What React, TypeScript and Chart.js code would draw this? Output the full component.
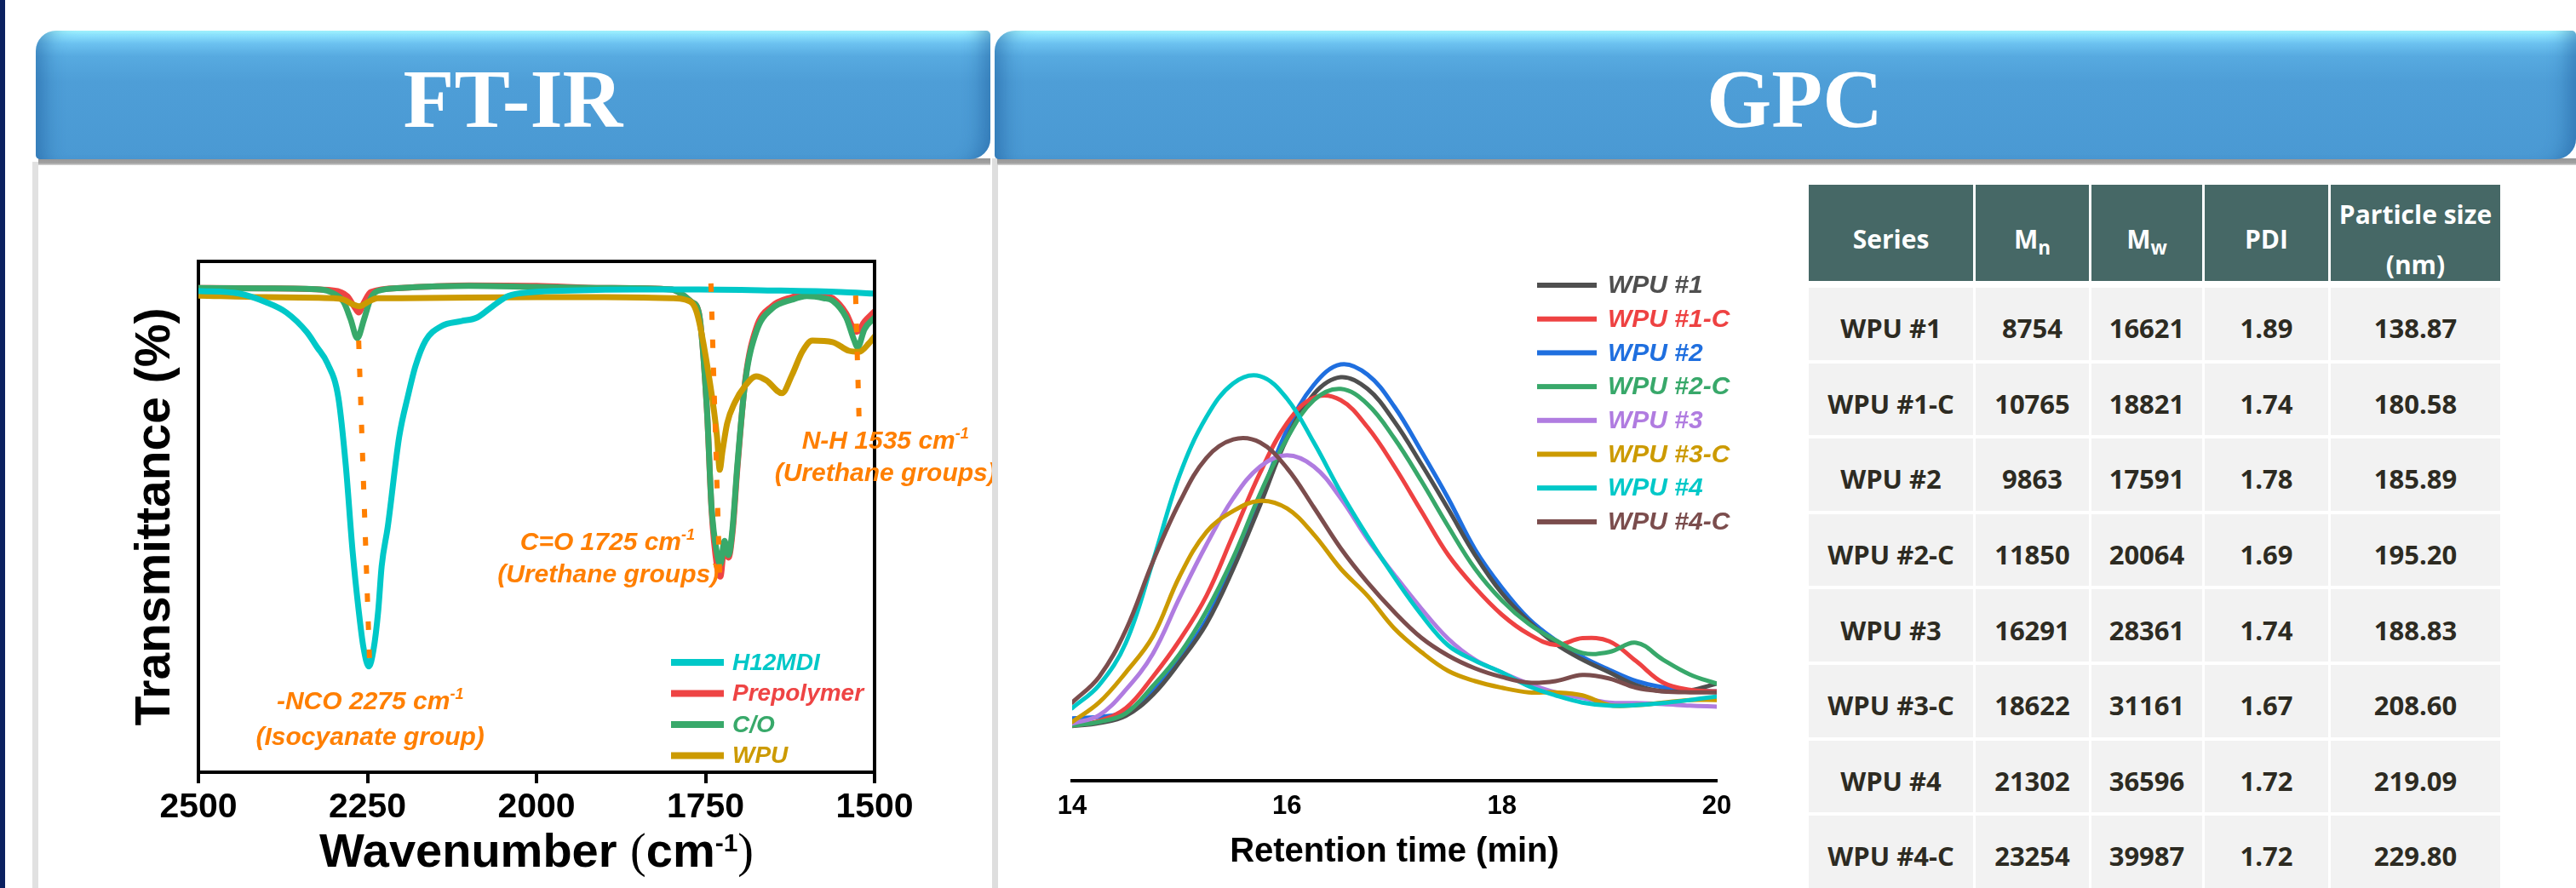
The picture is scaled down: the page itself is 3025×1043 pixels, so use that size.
import React, { useEffect, useRef } from 'react';
import { Chart, registerables } from 'chart.js';

Chart.register(...registerables);

const SANS = "'Liberation Sans', Arial, Helvetica, sans-serif";
const SERIF = "'Liberation Serif', 'Times New Roman', serif";
const TABLE_FONT = "'Open Sans', 'Noto Sans', sans-serif";
const ORANGE = '#ff7f00';

// ---------------- FT-IR data ----------------
const FTIR_LABELS = ['H12MDI', 'Prepolymer', 'C/O', 'WPU'];
const FTIR_COLORS = ['#00c8c8', '#ee4444', '#38a96a', '#cc9a00'];

const H12MDI_WN = [2500, 2440, 2400, 2370, 2340, 2325, 2309, 2293, 2282, 2272, 2263, 2256, 2248, 2241, 2234, 2229, 2220, 2203, 2190, 2179, 2164, 2141, 2111, 2088, 2065, 2042, 2004, 1950, 1850, 1760, 1650, 1550, 1500];
const H12MDI_T = [94.2, 93.7, 92.0, 90.0, 86.2, 83.3, 80.0, 73.3, 60.0, 43.3, 31.7, 24.5, 20.7, 24.0, 31.7, 40.3, 48.0, 65.7, 73.7, 79.5, 84.5, 87.3, 88.3, 89.0, 91.2, 93.2, 94.0, 94.3, 94.5, 94.5, 94.3, 94.0, 93.7];

const PREPOLYMER_WN = [2500, 2400, 2300, 2280, 2268, 2263, 2255, 2245, 2200, 2100, 2000, 1900, 1800, 1782, 1770, 1760, 1748, 1741, 1733, 1728, 1722, 1716, 1710, 1703, 1691, 1675, 1652, 1622, 1600, 1575, 1562, 1542, 1532, 1526, 1515, 1500];
const PREPOLYMER_T = [94.8, 94.7, 94.3, 93.2, 90.8, 90.0, 92.0, 94.0, 94.8, 95.3, 95.2, 94.8, 94.5, 93.3, 92.0, 90.0, 71.2, 51.2, 40.3, 38.3, 44.5, 42.0, 47.0, 59.3, 77.0, 87.0, 91.2, 93.0, 93.7, 93.3, 92.8, 89.8, 87.0, 86.2, 88.2, 90.2];

const CO_WN = [2500, 2400, 2320, 2300, 2285, 2275, 2265, 2255, 2245, 2235, 2200, 2100, 2000, 1900, 1800, 1782, 1770, 1760, 1748, 1741, 1733, 1728, 1722, 1716, 1710, 1703, 1691, 1675, 1652, 1622, 1600, 1575, 1562, 1542, 1530, 1525, 1515, 1500];
const CO_T = [94.8, 94.7, 94.5, 93.7, 92.0, 88.7, 85.0, 88.7, 92.8, 94.2, 94.8, 95.2, 95.0, 94.8, 94.5, 93.3, 92.0, 90.0, 71.2, 51.7, 42.8, 40.7, 45.3, 42.5, 47.8, 60.0, 76.7, 86.2, 90.7, 92.5, 93.2, 92.8, 92.3, 89.0, 84.5, 83.2, 86.7, 89.0];

const WPU_WN = [2500, 2400, 2300, 2285, 2270, 2262, 2250, 2235, 2200, 2000, 1900, 1800, 1780, 1763, 1744, 1733, 1729, 1725, 1718, 1707, 1691, 1675, 1660, 1637, 1622, 1607, 1592, 1562, 1538, 1523, 1508, 1500];
const WPU_T = [93.3, 93.0, 92.8, 92.5, 91.5, 91.2, 92.0, 92.8, 92.8, 93.0, 93.0, 92.8, 92.5, 90.0, 76.7, 65.7, 59.2, 62.8, 68.3, 72.3, 75.7, 77.5, 76.7, 74.2, 77.8, 82.3, 84.5, 84.2, 82.5, 82.3, 84.0, 85.3];

// peak marker guide lines (wavenumber, transmittance)
const NCO_LINE_WN = [2263, 2247];
const NCO_LINE_T = [84.5, 22.3];
const CO_LINE_WN = [1742, 1729];
const CO_LINE_T = [95.7, 38.3];
const NH_LINE_WN = [1528, 1523];
const NH_LINE_T = [93.3, 69.5];

const FTIR_X_TICKS = [2500, 2250, 2000, 1750, 1500];

// ---------------- GPC data ----------------
const GPC_LABELS = ['WPU #1', 'WPU #1-C', 'WPU #2', 'WPU #2-C', 'WPU #3', 'WPU #3-C', 'WPU #4', 'WPU #4-C'];
const GPC_COLORS = ['#4f4f4f', '#ee4242', '#1f6fdf', '#38a86a', '#b07ce0', '#cc9a00', '#00c8c8', '#7b4d4d'];
const GPC_TIME = [14, 14.25, 14.5, 14.75, 15, 15.25, 15.5, 15.75, 16, 16.25, 16.5, 16.75, 17, 17.25, 17.5, 17.75, 18, 18.25, 18.5, 18.75, 19, 19.25, 19.5, 19.75, 20];
const WPU1 = [10.7, 11.3, 12.7, 16.8, 23.2, 30.7, 41.5, 54.0, 67.0, 75.7, 79.0, 76.7, 70.3, 62.0, 53.2, 44.2, 36.7, 31.2, 26.8, 23.7, 21.2, 18.7, 17.5, 17.7, 19.0];
const WPU1C = [10.8, 11.7, 14.2, 20.3, 27.5, 36.2, 48.2, 60.3, 70.0, 75.0, 74.5, 69.2, 61.5, 52.8, 44.2, 37.8, 32.5, 28.7, 26.6, 27.9, 27.3, 23.4, 19.2, 17.8, 17.5];
const WPU2 = [12.2, 12.5, 13.5, 17.5, 23.7, 31.5, 42.5, 55.3, 68.7, 77.5, 81.5, 79.5, 73.2, 64.5, 55.3, 45.3, 37.8, 31.7, 27.5, 24.2, 21.7, 19.5, 18.3, 17.7, 17.5];
const WPU2C = [10.8, 11.5, 13.2, 18.5, 24.8, 33.2, 43.7, 56.2, 67.0, 74.5, 76.7, 73.7, 67.0, 58.7, 49.8, 41.5, 35.3, 30.7, 27.5, 25.0, 25.2, 27.0, 23.7, 20.8, 19.0];
const WPU3 = [11.2, 12.8, 17.8, 24.8, 35.8, 46.2, 55.3, 61.5, 63.7, 61.5, 55.3, 47.3, 40.3, 33.7, 27.8, 23.7, 21.2, 19.0, 17.3, 16.2, 15.3, 15.2, 15.0, 14.7, 14.5];
const WPU3C = [11.5, 15.3, 21.2, 28.2, 40.0, 48.7, 52.8, 54.8, 53.3, 48.2, 41.5, 36.2, 29.8, 25.2, 21.5, 19.5, 18.2, 17.3, 17.3, 16.7, 14.8, 14.8, 15.3, 15.8, 15.8];
const WPU4 = [14.2, 18.7, 27.0, 42.8, 59.8, 71.2, 77.8, 79.2, 74.8, 66.2, 56.5, 47.8, 39.8, 32.5, 26.5, 23.5, 21.2, 18.5, 16.7, 15.3, 14.7, 14.8, 15.2, 15.8, 16.5];
const WPU4C = [15.3, 20.3, 29.5, 42.8, 54.5, 63.2, 66.8, 66.2, 61.2, 53.5, 45.5, 38.8, 33.0, 28.0, 24.5, 22.0, 20.3, 19.2, 19.5, 20.7, 20.0, 18.2, 17.5, 17.3, 17.3];
const GPC_SERIES = [WPU1, WPU1C, WPU2, WPU2C, WPU3, WPU3C, WPU4, WPU4C];
const GPC_X_TICKS = [14, 16, 18, 20];

// ---------------- Table data ----------------
const TABLE_SERIES = ['WPU #1', 'WPU #1-C', 'WPU #2', 'WPU #2-C', 'WPU #3', 'WPU #3-C', 'WPU #4', 'WPU #4-C'];
const TABLE_MN = [8754, 10765, 9863, 11850, 16291, 18622, 21302, 23254];
const TABLE_MW = [16621, 18821, 17591, 20064, 28361, 31161, 36596, 39987];
const TABLE_PDI = ['1.89', '1.74', '1.78', '1.69', '1.74', '1.67', '1.72', '1.72'];
const TABLE_SIZE = ['138.87', '180.58', '185.89', '195.20', '188.83', '208.60', '219.09', '229.80'];

// ---------------- helpers ----------------
function drawParts(ctx: any, parts: any[], cx: number, baseline: number, color: string) {
  let total = 0;
  const widths = parts.map((p) => {
    ctx.font = p.font;
    const w = ctx.measureText(p.t).width;
    total += w;
    return w;
  });
  let x = cx - total / 2;
  ctx.fillStyle = color;
  ctx.textAlign = 'left';
  ctx.textBaseline = 'alphabetic';
  parts.forEach((p, i) => {
    ctx.font = p.font;
    ctx.fillText(p.t, x, baseline + (p.dy || 0));
    x += widths[i];
  });
}

const pts = (xs: number[], ys: number[]) => xs.map((x, i) => ({ x, y: ys[i] }));

const ftirOverlay = {
  id: 'ftirOverlay',
  afterDraw(chart: any) {
    const { ctx, chartArea: a, scales } = chart;
    const xs = scales.x;
    const ys = scales.y;
    ctx.save();
    // frame top/right
    ctx.strokeStyle = '#000';
    ctx.lineWidth = 4;
    ctx.lineCap = 'square';
    ctx.beginPath();
    ctx.moveTo(a.left, a.top);
    ctx.lineTo(a.right, a.top);
    ctx.lineTo(a.right, a.bottom);
    ctx.stroke();

    // annotations
    const f = `italic bold 30px ${SANS}`;
    const fs = `italic bold 18px ${SANS}`;
    const ann = [
      { wn: 2246, t: 12.3, parts: [{ t: '-NCO 2275 cm', font: f }, { t: '-1', font: fs, dy: -12 }] },
      { wn: 2246, t: 5.3, parts: [{ t: '(Isocyanate group)', font: f }] },
      { wn: 1895, t: 43.5, parts: [{ t: 'C=O 1725 cm', font: f }, { t: '-1', font: fs, dy: -12 }] },
      { wn: 1894, t: 37.2, parts: [{ t: '(Urethane groups)', font: f }] },
      { wn: 1484, t: 63.3, parts: [{ t: 'N-H 1535 cm', font: f }, { t: '-1', font: fs, dy: -12 }] },
      { wn: 1484, t: 57.0, parts: [{ t: '(Urethane groups)', font: f }] },
    ];
    ann.forEach((an) => {
      drawParts(ctx, an.parts, xs.getPixelForValue(an.wn), ys.getPixelForValue(an.t), ORANGE);
    });

    // legend
    FTIR_LABELS.forEach((lab, i) => {
      const yy = a.top + 471 + 36.5 * i;
      ctx.fillStyle = FTIR_COLORS[i];
      ctx.fillRect(a.left + 555, yy - 4, 62, 8);
      ctx.font = `italic bold 28px ${SANS}`;
      ctx.textAlign = 'left';
      ctx.textBaseline = 'middle';
      ctx.fillText(lab, a.left + 627, yy + 1);
    });

    // x axis title with superscript
    drawParts(
      ctx,
      [
        { t: 'Wavenumber ', font: `bold 56px ${SANS}` },
        { t: '(', font: `56px ${SERIF}` },
        { t: 'cm', font: `bold 56px ${SANS}` },
        { t: '-1', font: `bold 30px ${SANS}`, dy: -18 },
        { t: ')', font: `56px ${SERIF}` },
      ],
      (a.left + a.right) / 2,
      a.bottom + 111,
      '#000'
    );
    ctx.restore();
  },
};

const gpcOverlay = {
  id: 'gpcOverlay',
  afterDraw(chart: any) {
    const { ctx, chartArea: a } = chart;
    ctx.save();
    GPC_LABELS.forEach((lab, i) => {
      const yy = a.top + 18 + 39.7 * i;
      ctx.fillStyle = GPC_COLORS[i];
      ctx.fillRect(a.left + 546, yy - 3, 70, 6);
      ctx.font = `italic bold 30px ${SANS}`;
      ctx.textAlign = 'left';
      ctx.textBaseline = 'middle';
      ctx.fillText(lab, a.left + 629, yy + 1);
    });
    ctx.restore();
  },
};

function ftirConfig(): any {
  const seriesLine = (label: string, xs: number[], ys: number[], color: string) => ({
    label,
    data: pts(xs, ys),
    borderColor: color,
    backgroundColor: color,
    borderWidth: 7,
    pointRadius: 0,
    fill: false,
    cubicInterpolationMode: 'monotone',
    borderJoinStyle: 'round',
    borderCapStyle: 'round',
  });
  const guide = (xs: number[], ys: number[]) => ({
    label: 'guide',
    data: pts(xs, ys),
    borderColor: ORANGE,
    borderWidth: 6,
    borderDash: [10, 23],
    pointRadius: 0,
    fill: false,
    tension: 0,
  });
  return {
    type: 'line',
    data: {
      datasets: [
        guide(NCO_LINE_WN, NCO_LINE_T),
        guide(CO_LINE_WN, CO_LINE_T),
        guide(NH_LINE_WN, NH_LINE_T),
        seriesLine(FTIR_LABELS[0], H12MDI_WN, H12MDI_T, FTIR_COLORS[0]),
        seriesLine(FTIR_LABELS[3], WPU_WN, WPU_T, FTIR_COLORS[3]),
        seriesLine(FTIR_LABELS[2], CO_WN, CO_T, FTIR_COLORS[2]),
        seriesLine(FTIR_LABELS[1], PREPOLYMER_WN, PREPOLYMER_T, FTIR_COLORS[1]),
      ],
    },
    options: {
      animation: false,
      responsive: false,
      maintainAspectRatio: false,
      events: [],
      layout: { padding: { left: 0, right: 138, top: 57, bottom: 0 } },
      plugins: { legend: { display: false }, tooltip: { enabled: false }, title: { display: false } },
      scales: {
        x: {
          type: 'linear',
          reverse: true,
          min: 1500,
          max: 2500,
          afterFit: (s: any) => { s.height = 136; },
          afterBuildTicks: (s: any) => { s.ticks = FTIR_X_TICKS.map((v) => ({ value: v })); },
          ticks: {
            autoSkip: false,
            maxRotation: 0,
            padding: 4,
            color: '#000',
            font: { family: SANS, size: 41, weight: 'bold', lineHeight: 1.2 },
            callback: (v: any) => String(v),
          },
          grid: { display: true, drawOnChartArea: false, drawTicks: true, tickLength: 13, lineWidth: 4, color: '#000' },
          border: { display: true, width: 4, color: '#000' },
          title: { display: false },
        },
        y: {
          type: 'linear',
          min: 0,
          max: 100,
          afterFit: (s: any) => { s.width = 133; },
          ticks: { display: false },
          grid: { display: false, drawTicks: false },
          border: { display: true, width: 4, color: '#000' },
          title: {
            display: true,
            text: 'Transmittance (%)',
            color: '#000',
            font: { family: SANS, size: 57, weight: 'bold', lineHeight: 1 },
            padding: { top: 55, bottom: 55 },
          },
        },
      },
    },
    plugins: [ftirOverlay],
  };
}

function gpcConfig(): any {
  const order = [7, 6, 5, 4, 3, 1, 0, 2];
  return {
    type: 'line',
    data: {
      datasets: order.map((k) => ({
        label: GPC_LABELS[k],
        data: pts(GPC_TIME, GPC_SERIES[k]),
        borderColor: GPC_COLORS[k],
        backgroundColor: GPC_COLORS[k],
        borderWidth: 5,
        pointRadius: 0,
        fill: false,
        tension: 0.38,
        borderJoinStyle: 'round',
        borderCapStyle: 'round',
      })),
    },
    options: {
      animation: false,
      responsive: false,
      maintainAspectRatio: false,
      events: [],
      layout: { padding: { left: 69, right: 94, top: 77, bottom: 0 } },
      plugins: { legend: { display: false }, tooltip: { enabled: false }, title: { display: false } },
      scales: {
        x: {
          type: 'linear',
          min: 14,
          max: 20,
          afterFit: (s: any) => { s.height = 126; },
          afterBuildTicks: (s: any) => { s.ticks = GPC_X_TICKS.map((v) => ({ value: v })); },
          ticks: {
            autoSkip: false,
            maxRotation: 0,
            padding: 12,
            color: '#000',
            font: { family: SANS, size: 31, weight: 'bold', lineHeight: 1.2 },
            callback: (v: any) => String(v),
          },
          grid: { display: false, drawTicks: false },
          border: { display: true, width: 4, color: '#000' },
          title: {
            display: true,
            text: 'Retention time (min)',
            color: '#000',
            font: { family: SANS, size: 40, weight: 'bold', lineHeight: 1 },
            padding: { top: 22, bottom: 22 },
          },
        },
        y: { type: 'linear', display: false, min: 0, max: 100 },
      },
    },
    plugins: [gpcOverlay],
  };
}

function ChartCanvas({ makeConfig, left, top, width, height }: any) {
  const ref = useRef<HTMLCanvasElement>(null);
  useEffect(() => {
    const chart = new Chart(ref.current as HTMLCanvasElement, makeConfig());
    return () => chart.destroy();
  }, []);
  return (
    <canvas
      ref={ref}
      width={width}
      height={height}
      style={{ position: 'absolute', left, top, width, height }}
    />
  );
}

function Banner({ left, width, text, shift }: any) {
  return (
    <>
      <div
        style={{
          position: 'absolute',
          left: left + 3,
          top: 186,
          width: width - 3,
          height: 8,
          background: 'linear-gradient(180deg, #969696 0%, #a2a2a2 70%, #d8d8d8 100%)',
        }}
      />
      <div
        style={{
          position: 'absolute',
          left,
          top: 36,
          width,
          height: 151,
          boxSizing: 'border-box',
          borderRadius: '24px 5px 24px 5px',
          background:
            'linear-gradient(180deg, #a4f7ff 0px, #8be1fd 5px, #6cc2f0 15px, #57aae0 30px, #4e9ed7 60px, #4a99d3 151px)',
          boxShadow:
            'inset 30px 0 22px -20px rgba(20,80,145,0.45), inset -30px 0 22px -20px rgba(20,80,145,0.45)',
          display: 'flex',
          alignItems: 'center',
          justifyContent: 'center',
          paddingTop: 8,
        }}
      >
        <span
          style={{
            color: '#ffffff',
            fontFamily: SERIF,
            fontWeight: 'bold',
            fontSize: 98,
            lineHeight: '98px',
            marginLeft: shift,
          }}
        >
          {text}
        </span>
      </div>
    </>
  );
}

function GpcTable() {
  const cols = [193, 133, 130, 145, 199];
  const head: any = {
    background: '#466866',
    color: '#ffffff',
    height: 113,
    alignSelf: 'start',
    display: 'flex',
    alignItems: 'center',
    justifyContent: 'center',
    textAlign: 'center',
    paddingTop: 14,
    boxSizing: 'border-box',
    fontFamily: TABLE_FONT,
    fontWeight: 700,
    fontSize: 30,
  };
  const cell: any = {
    background: '#f2f2f2',
    color: '#2d2b22',
    display: 'flex',
    alignItems: 'center',
    justifyContent: 'center',
    paddingTop: 10,
    boxSizing: 'border-box',
    fontFamily: TABLE_FONT,
    fontWeight: 700,
    fontSize: 31,
  };
  const sub: any = { fontSize: '0.75em', verticalAlign: '-0.32em', lineHeight: 0 };
  const rows = TABLE_SERIES.map((s, i) => [s, String(TABLE_MN[i]), String(TABLE_MW[i]), TABLE_PDI[i], TABLE_SIZE[i]]);
  return (
    <div
      style={{
        position: 'absolute',
        left: 2124,
        top: 217,
        display: 'grid',
        gridTemplateColumns: cols.map((c) => c + 'px').join(' '),
        gridTemplateRows: '117px repeat(8, 84.6px)',
        columnGap: 3,
        rowGap: 4,
      }}
    >
      <div style={head}>Series</div>
      <div style={head}>
        <span>M<sub style={sub}>n</sub></span>
      </div>
      <div style={head}>
        <span>M<sub style={sub}>w</sub></span>
      </div>
      <div style={head}>PDI</div>
      <div style={{ ...head, flexDirection: 'column', lineHeight: '59px' }}>
        <span>Particle size</span>
        <span>(nm)</span>
      </div>
      {rows.flat().map((v, k) => (
        <div key={k} style={cell}>
          {v}
        </div>
      ))}
    </div>
  );
}

export default function App() {
  return (
    <div
      style={{
        position: 'fixed',
        left: 0,
        top: 0,
        width: 3025,
        height: 1043,
        background: '#ffffff',
        overflow: 'hidden',
      }}
    >
      <div style={{ position: 'absolute', left: 0, top: 0, width: 6, height: 1043, background: '#0b2160' }} />
      <div style={{ position: 'absolute', left: 38, top: 190, width: 7, height: 853, background: '#e1e1e1' }} />
      <div style={{ position: 'absolute', left: 1165, top: 186, width: 7, height: 857, background: '#dedede' }} />
      <Banner left={42} width={1121} text="FT-IR" shift={0} />
      <Banner left={1168} width={1857} text="GPC" shift={22} />
      <ChartCanvas makeConfig={ftirConfig} left={100} top={250} width={1065} height={793} />
      <ChartCanvas makeConfig={gpcConfig} left={1190} top={240} width={920} height={803} />
      <GpcTable />
    </div>
  );
}
